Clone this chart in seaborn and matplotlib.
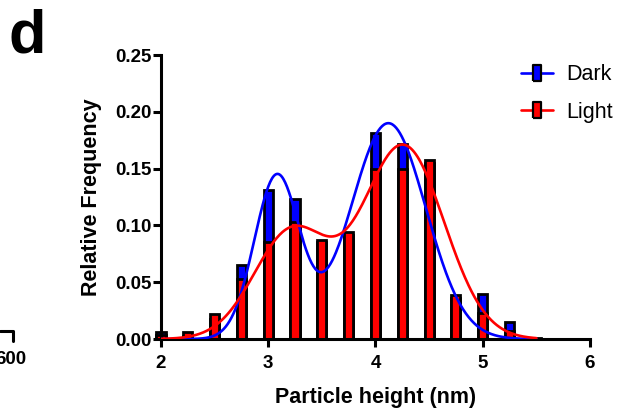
import numpy as np
import pandas as pd
import matplotlib
matplotlib.use("Agg")
import matplotlib.pyplot as plt
from matplotlib.lines import Line2D
import seaborn as sns

# Histogram bins (nm) and relative frequencies
bin_centers = [2.0, 2.25, 2.5, 2.75, 3.0, 3.25, 3.5, 3.75, 4.0, 4.25, 4.5, 4.75, 5.0, 5.25, 5.5]
dark_freq = [0.006, 0.003, 0.018, 0.065, 0.131, 0.123, 0.085, 0.092, 0.181, 0.172, 0.155, 0.036, 0.040, 0.015, 0.001]
light_freq = [0.004, 0.006, 0.022, 0.053, 0.085, 0.103, 0.087, 0.094, 0.150, 0.150, 0.158, 0.039, 0.023, 0.007, 0.0]

# Two-component Gaussian fits: amplitude, mean, sigma
dark_amp = [0.143, 0.190]
dark_mean = [3.08, 4.12]
dark_sigma = [0.21, 0.35]
light_amp = [0.095, 0.170]
light_mean = [3.22, 4.26]
light_sigma = [0.35, 0.38]

x_ticks = [2, 3, 4, 5, 6]
y_ticks = [0.00, 0.05, 0.10, 0.15, 0.20, 0.25]

DARK = "#0000FF"
LIGHT = "#FF0000"


def gauss_sum(x, amps, means, sigmas):
    y = np.zeros_like(x)
    for a, m, s in zip(amps, means, sigmas):
        y += a * np.exp(-(x - m) ** 2 / (2 * s ** 2))
    return y


sns.set_style("ticks")
plt.rcParams["font.family"] = ["Liberation Sans", "DejaVu Sans"]
plt.rcParams.update({"text.color": "black", "axes.labelcolor": "black",
                     "xtick.color": "black", "ytick.color": "black",
                     "axes.edgecolor": "black"})

fig = plt.figure(figsize=(6.23, 4.09), dpi=100)
ax = fig.add_axes([0.2584, 0.171, 0.6886, 0.6945])

bars = pd.DataFrame({"x": bin_centers, "Dark": dark_freq, "Light": light_freq})
for col, color in (("Dark", DARK), ("Light", LIGHT)):
    sns.barplot(data=bars, x="x", y=col, native_scale=True, width=0.34,
                color=color, edgecolor="black", linewidth=2, saturation=1,
                ax=ax, zorder=2)
for p in ax.patches:
    p.set_clip_on(False)

xs = np.linspace(2.0, 5.5, 400)
fits = pd.DataFrame({"x": xs,
                     "Dark": gauss_sum(xs, dark_amp, dark_mean, dark_sigma),
                     "Light": gauss_sum(xs, light_amp, light_mean, light_sigma)})
sns.lineplot(data=fits, x="x", y="Dark", color=DARK, lw=1.9, ax=ax, zorder=4)
sns.lineplot(data=fits, x="x", y="Light", color=LIGHT, lw=1.9, ax=ax, zorder=5)

ax.set_xlim(2, 6)
ax.set_ylim(0, 0.25)
ax.set_xticks(x_ticks)
ax.set_xticklabels([str(t) for t in x_ticks])
ax.set_yticks(y_ticks)
ax.set_yticklabels([f"{t:.2f}" for t in y_ticks])
sns.despine(ax=ax)
for s in ("left", "bottom"):
    ax.spines[s].set_linewidth(2.2)
ax.tick_params(width=2.2, length=5.5, labelsize=13.5)
ax.tick_params(axis="x", pad=6)
ax.tick_params(axis="y", pad=1.5)
for lab in ax.get_xticklabels() + ax.get_yticklabels():
    lab.set_fontweight("bold")
ax.set_xlabel("Particle height (nm)", fontsize=15.5, fontweight="bold", labelpad=10.5)
ax.set_ylabel("Relative Frequency", fontsize=15.5, fontweight="bold", labelpad=9)

rect = [(-0.55, -1), (0.55, -1), (0.55, 1), (-0.55, 1), (-0.55, -1)]
handles = [Line2D([0], [0], color=c, lw=1.9, marker=rect, markersize=11,
                  markerfacecolor=c, markeredgecolor="black", markeredgewidth=1.6)
           for c in (DARK, LIGHT)]
fig.legend(handles, ["Dark", "Light"], loc="upper left",
           bbox_to_anchor=(0.805, 0.89), frameon=False, fontsize=15.5,
           handlelength=1.5, handletextpad=0.6, labelspacing=0.75)

fig.text(0.013, 0.98, "d", fontsize=44, fontweight="bold", va="top", ha="left")
# edge of the neighbouring panel
fig.text(-0.008, 0.12, "600", fontsize=13.5, fontweight="bold", va="center", ha="left")
fig.add_artist(Line2D([0.0, 0.021, 0.021], [0.1907, 0.1907, 0.1663], color="black", lw=2.2))

fig.savefig("out.png", dpi=100)
